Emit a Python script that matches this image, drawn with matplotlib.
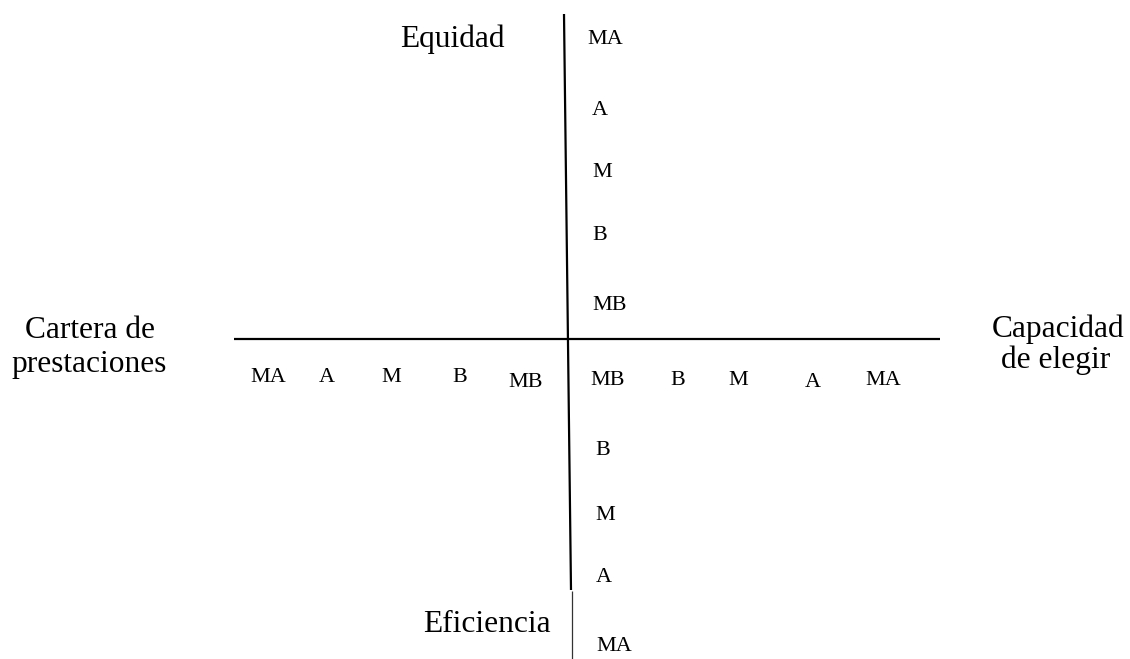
import matplotlib
matplotlib.use("Agg")
import matplotlib.pyplot as plt

# ---- data ----
levels = ["MA", "A", "M", "B", "MB"]          # muy alto ... muy bajo
axis_top = "Equidad"
axis_bottom = "Eficiencia"
axis_left = ["Cartera de", "prestaciones"]
axis_right = ["Capacidad", "de elegir"]

# ---- layout (pixel coordinates) ----
W, H = 1130, 659
top_x = [587, 592, 592, 592, 592]
top_y = [44, 115, 177, 240, 310]
bot_labels = levels[::-1][1:]       # B, M, A, MA  (MB shared at crossing row)
bot_x = [595, 595, 596, 596]
bot_y = [455, 520, 582, 651]
left_x = [268, 327, 391, 460, 526]
left_y = [382, 382, 382, 382, 387]
right_labels = levels[::-1]          # MB, B, M, A, MA
right_x = [608, 678, 738, 813, 883]
right_y = [385, 385, 385, 387, 385]

fig = plt.figure(figsize=(W / 100, H / 100), dpi=100)
ax = fig.add_axes([0, 0, 1, 1])
ax.set_xlim(0, W)
ax.set_ylim(H, 0)
ax.axis("off")

font = "Liberation Serif"
small = 15.9
big = 22.6

# axes lines
ax.plot([564, 571], [14, 590], color="black", lw=1.6, solid_capstyle="butt")
ax.plot([572, 572], [591, 659], color="#333333", lw=0.9, solid_capstyle="butt")
ax.plot([234, 940], [339, 339], color="black", lw=1.6, solid_capstyle="butt")

for t, x, y in zip(levels, top_x, top_y):
    ax.text(x, y, t, ha="left", va="baseline", fontsize=small, family=font)
for t, x, y in zip(bot_labels, bot_x, bot_y):
    ax.text(x, y, t, ha="left", va="baseline", fontsize=small, family=font)
for t, x, y in zip(levels, left_x, left_y):
    ax.text(x, y, t, ha="center", va="baseline", fontsize=small, family=font)
for t, x, y in zip(right_labels, right_x, right_y):
    ax.text(x, y, t, ha="center", va="baseline", fontsize=small, family=font)

ax.text(452, 47, axis_top, ha="center", va="baseline", fontsize=big, family=font)
ax.text(487, 632, axis_bottom, ha="center", va="baseline", fontsize=big, family=font)
ax.text(90, 338, axis_left[0], ha="center", va="baseline", fontsize=big, family=font)
ax.text(89, 372, axis_left[1], ha="center", va="baseline", fontsize=big, family=font)
ax.text(1058, 337, axis_right[0], ha="center", va="baseline", fontsize=big, family=font)
ax.text(1056, 368, axis_right[1], ha="center", va="baseline", fontsize=big, family=font)

fig.savefig("out.png", dpi=100)
